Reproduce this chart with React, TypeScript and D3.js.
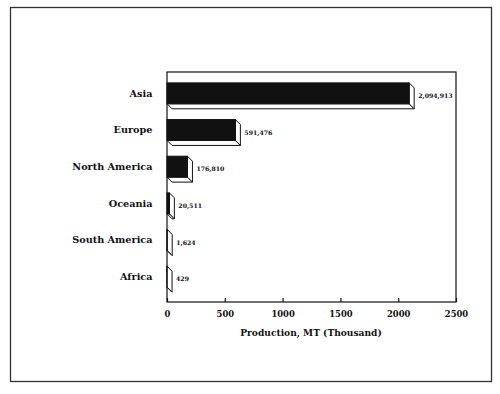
import { useEffect, useRef } from "react";
import * as d3 from "d3";

// chart values (production in thousand MT)
const categories = ["Asia", "Europe", "North America", "Oceania", "South America", "Africa"];
const production = [2094.913, 591.476, 176.81, 20.511, 1.624, 0.429];
const valueLabels = ["2,094,913", "591,476", "176,810", "20,511", "1,624", "429"];
const xTicks = [0, 500, 1000, 1500, 2000, 2500];

const FONT = "'DejaVu Serif', 'Liberation Serif', serif";

const App = () => {
  const svgRef = useRef<SVGSVGElement>(null);

  useEffect(() => {
    const svg = d3.select(svgRef.current);
    svg.selectAll("*").remove(); // clear previous renders

    // plot box in pixels
    const left = 167, right = 456, top = 72, bottom = 302;
    const depth = 5; // offset of the 3D faces

    const x = d3.scaleLinear().domain([0, 2500]).range([left, right]);
    const y = d3
      .scaleBand<string>()
      .domain(categories)
      .range([75, 295])
      .paddingInner(0.43)
      .paddingOuter(0.215);

    svg.append("rect").attr("width", 500).attr("height", 394).attr("fill", "#fff");

    // outer frame
    svg
      .append("rect")
      .attr("x", 10.5)
      .attr("y", 7.5)
      .attr("width", 481)
      .attr("height", 374)
      .attr("fill", "none")
      .attr("stroke", "#333")
      .attr("stroke-width", 1.3);

    // plot box
    svg
      .append("rect")
      .attr("x", left)
      .attr("y", top)
      .attr("width", right - left)
      .attr("height", bottom - top)
      .attr("fill", "none")
      .attr("stroke", "#111")
      .attr("stroke-width", 1.2);

    // x axis, ticks pointing inward
    const axis = svg
      .append("g")
      .attr("transform", `translate(0,${bottom})`)
      .call(
        d3.axisBottom(x).tickValues(xTicks).tickSizeInner(-4).tickSizeOuter(0).tickPadding(9).tickFormat(d3.format("d"))
      );
    axis.select(".domain").remove();
    axis.selectAll("line").attr("stroke", "#111").attr("stroke-width", 1.2);
    axis
      .selectAll("text")
      .attr("font-family", FONT)
      .attr("font-weight", "bold")
      .attr("font-size", 8.4)
      .attr("fill", "#111");

    svg
      .append("text")
      .attr("x", 311)
      .attr("y", 336)
      .attr("text-anchor", "middle")
      .attr("font-family", FONT)
      .attr("font-weight", "bold")
      .attr("font-size", 9.1)
      .attr("fill", "#111")
      .text("Production, MT (Thousand)");

    // category labels
    svg
      .append("g")
      .selectAll("text")
      .data(categories)
      .join("text")
      .attr("x", 152.5)
      .attr("y", (d) => y(d)! + y.bandwidth() / 2)
      .attr("dy", "0.35em")
      .attr("text-anchor", "end")
      .attr("font-family", FONT)
      .attr("font-weight", "bold")
      .attr("font-size", 9.7)
      .attr("fill", "#111")
      .text((d) => d);

    // 3D bars: bottom face, right face, then the black front
    const bars = svg
      .append("g")
      .selectAll("g")
      .data(categories.map((c, i) => ({ c, v: production[i], label: valueLabels[i] })))
      .join("g");

    const x0 = x(0);
    bars
      .append("path")
      .attr("d", (d) => {
        const x1 = x(d.v), yB = y(d.c)! + y.bandwidth();
        return `M${x0},${yB}L${x1},${yB}L${x1 + depth},${yB + depth}L${x0 + depth},${yB + depth}Z`;
      })
      .attr("fill", "#fff")
      .attr("stroke", "#111")
      .attr("stroke-width", 1)
      .attr("stroke-linejoin", "round");

    bars
      .append("path")
      .attr("d", (d) => {
        const x1 = x(d.v), yT = y(d.c)!, yB = yT + y.bandwidth();
        return `M${x1},${yT}L${x1 + depth},${yT + depth}L${x1 + depth},${yB + depth}L${x1},${yB}Z`;
      })
      .attr("fill", "#fff")
      .attr("stroke", "#111")
      .attr("stroke-width", 1)
      .attr("stroke-linejoin", "round");

    bars
      .append("rect")
      .attr("x", x0)
      .attr("y", (d) => y(d.c)!)
      .attr("width", (d) => x(d.v) - x0)
      .attr("height", y.bandwidth())
      .attr("fill", "#111")
      .attr("stroke", "#111")
      .attr("stroke-width", 1);

    // value labels
    bars
      .append("text")
      .attr("x", (d) => x(d.v) + depth + 4)
      .attr("y", (d) => y(d.c)! + y.bandwidth() / 2 + depth / 2)
      .attr("dy", "0.35em")
      .attr("font-family", FONT)
      .attr("font-weight", "bold")
      .attr("font-size", 6.2)
      .attr("fill", "#111")
      .text((d) => d.label);
  }, []);

  return (
    <svg
      ref={svgRef}
      width={500}
      height={394}
      style={{ position: "absolute", left: 0, top: 0, display: "block" }}
    />
  );
};

export default App;
